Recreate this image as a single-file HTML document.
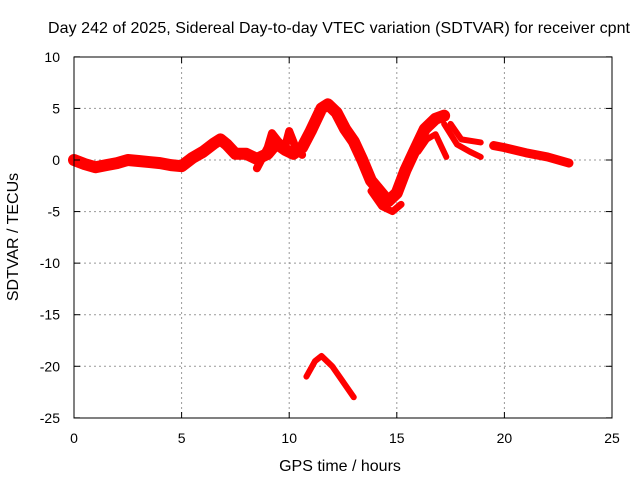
<!DOCTYPE html>
<html><head><meta charset="utf-8"><style>
body{margin:0;background:#fff}
svg{display:block;font-family:"Liberation Sans",sans-serif}
</style></head><body>
<svg id="chart" width="640" height="480">
<rect width="640" height="480" fill="#fff"/>
<text x="339" y="33" font-size="16" text-anchor="middle" textLength="582">Day 242 of 2025, Sidereal Day-to-day VTEC variation (SDTVAR) for receiver cpnt</text>
<g id="grid"></g>
<g id="series"></g>
<rect x="74" y="57" width="538" height="361" fill="none" stroke="#000"/>
<g id="ticks"></g>
<text x="340" y="471" font-size="16" text-anchor="middle">GPS time / hours</text>
<text x="18" y="237" font-size="16" text-anchor="middle" transform="rotate(-90 18 237)">SDTVAR / TECUs</text>
</svg>
<script>
const xTicks=[0,5,10,15,20,25];
const yTicks=[10,5,0,-5,-10,-15,-20,-25];
const mainTrack=[[0,0],[0.5,-0.4],[1,-0.7],[1.5,-0.5],[2,-0.3],[2.5,0],[3,-0.1],[3.5,-0.2],[4,-0.3],[4.5,-0.5],[5,-0.6],[5.5,0.2],[6,0.8],[6.5,1.6],[6.8,2],[7.1,1.5],[7.5,0.6],[8,0.6],[8.5,0.1],[9,0.6],[9.4,1.6],[9.8,1],[10.2,0.6],[10.6,1.2],[11,2.8],[11.5,5],[11.8,5.4],[12.2,4.6],[12.6,3],[13,1.8],[13.4,0],[13.8,-2],[14.2,-3],[14.6,-4],[15,-3.2],[15.4,-1],[15.8,0.8],[16.3,3],[16.8,4],[17.2,4.3]];
const loopTrack=[[8.5,-0.8],[9,1.2],[9.2,2.6],[9.5,1.8],[9.8,1.2],[10,2.8],[10.3,1.2],[10.6,0.5]];
const lowBranch=[[16,0.8],[16.4,2],[16.8,2.5],[17.3,0.3]];
const midBranch=[[17.2,3.5],[17.8,1.5],[18.4,0.8],[18.9,0.3]];
const upBranch=[[17.5,3.5],[18,2],[18.9,1.7]];
const dipTrack=[[13.8,-3],[14.3,-4.5],[14.8,-5],[15.2,-4.3]];
const tailTrack=[[19.5,1.4],[20,1.2],[21,0.7],[22,0.3],[23,-0.3]];
const negTrack=[[10.8,-21],[11.2,-19.5],[11.5,-19],[12,-20],[12.5,-21.5],[13,-23]];
const X=h=>74+h*538/25, Y=v=>160-v*361/35;
const ns="http://www.w3.org/2000/svg";
const g=document.getElementById('grid'),t=document.getElementById('ticks'),s=document.getElementById('series');
function mk(p,tag,a){const e=document.createElementNS(ns,tag);for(const k in a)e.setAttribute(k,a[k]);p.appendChild(e);return e;}
xTicks.forEach(v=>{
 if(v>0&&v<25){const l=mk(g,'line',{x1:X(v),x2:X(v),y1:57,y2:418,stroke:'#999','stroke-dasharray':'2,3'});
 
 }
 const tx=mk(t,'text',{x:X(v),y:443,'font-size':14,'text-anchor':'middle'});tx.textContent=v;
 
 
 mk(t,'line',{x1:X(v),x2:X(v),y1:418,y2:412,stroke:'#000'});mk(t,'line',{x1:X(v),x2:X(v),y1:57,y2:63,stroke:'#000'});
});
yTicks.forEach(v=>{
 if(v<10&&v>-25){const l=mk(g,'line',{x1:74,x2:612,y1:Y(v),y2:Y(v),stroke:'#999','stroke-dasharray':'2,3'});
 
 }
 const tx=mk(t,'text',{x:60,y:Y(v)+5,'font-size':14,'text-anchor':'end'});tx.textContent=v;
 
 
 mk(t,'line',{x1:74,x2:80,y1:Y(v),y2:Y(v),stroke:'#000'});mk(t,'line',{x1:612,x2:606,y1:Y(v),y2:Y(v),stroke:'#000'});
});
function track(d,w,name){
 const p=mk(s,'polyline',{points:d.map(q=>X(q[0])+','+Y(q[1])).join(' '),fill:'none',stroke:'#f00','stroke-width':w,'stroke-linejoin':'round','stroke-linecap':'round'});
 
 
}
track(mainTrack,12,'main-series-band');
track(loopTrack,8,'loop-series-band');
track(lowBranch,6,'low-branch-band');
track(midBranch,6,'mid-branch-band');
track(upBranch,6,'upper-branch-band');
track(dipTrack,7,'dip-series-band');
track(tailTrack,9,'tail-series-band');
track(negTrack,6,'negative-series-band');
</script>
</body></html>
